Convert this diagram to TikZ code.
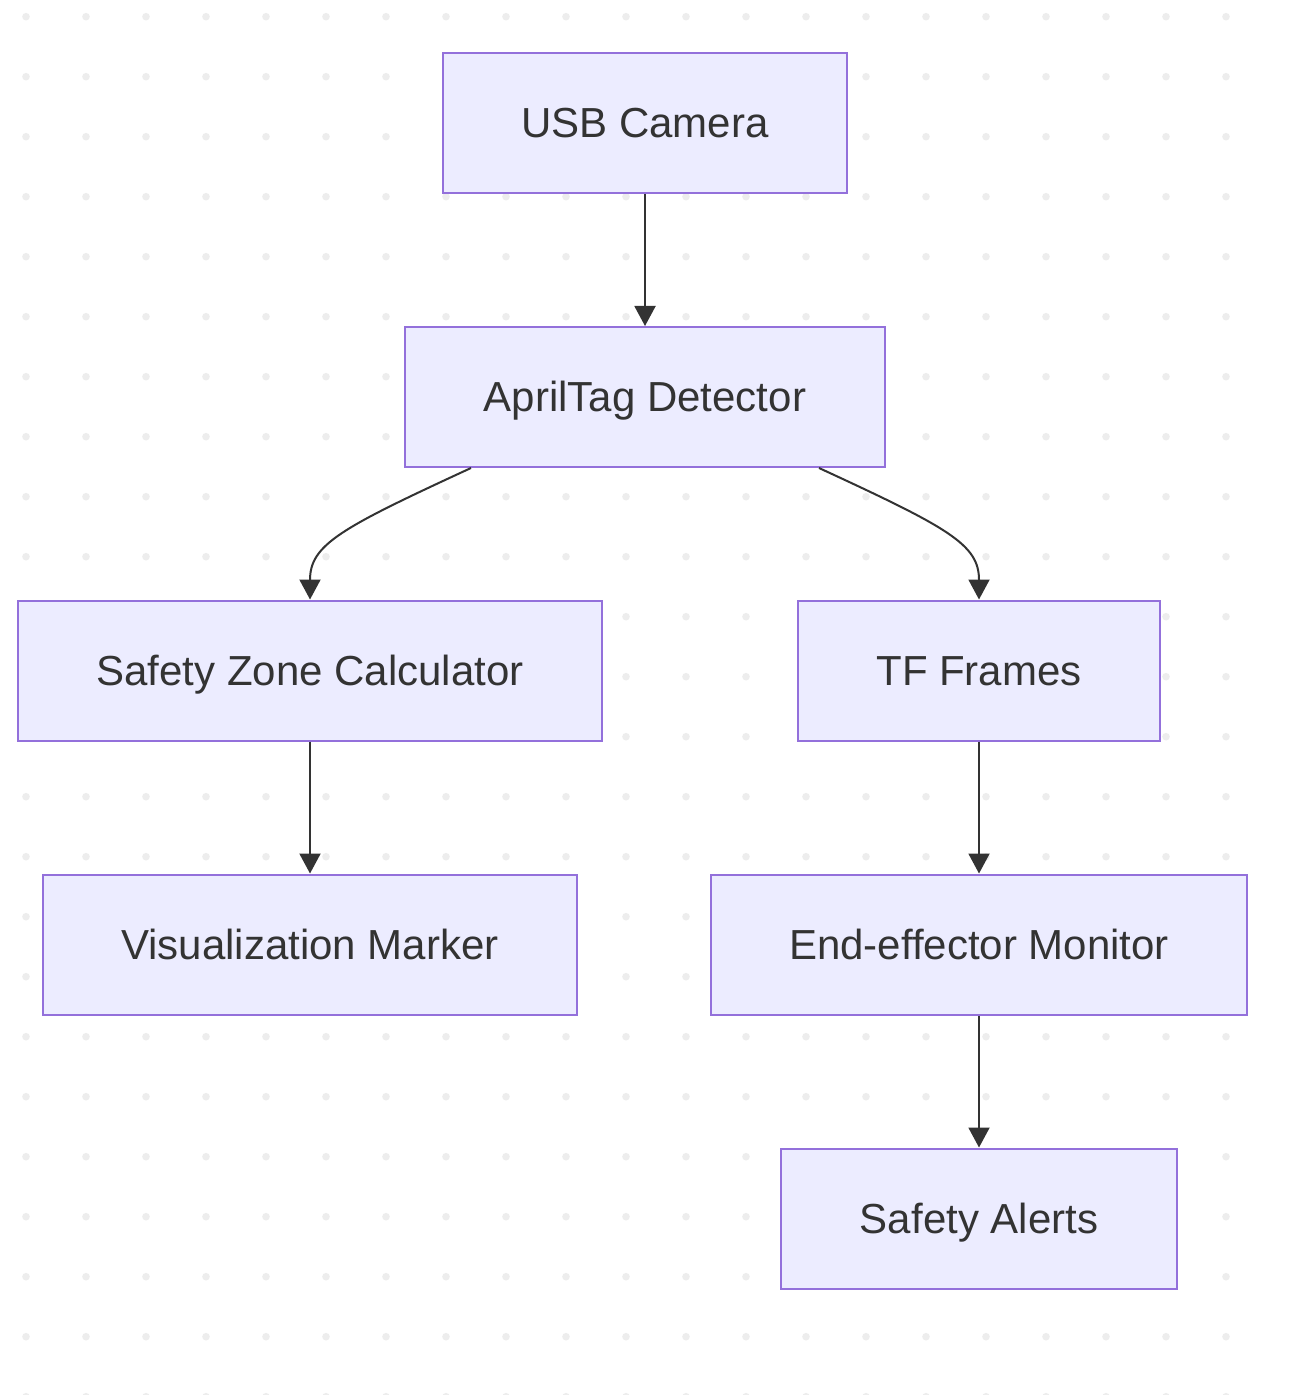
\documentclass[tikz,border=0pt]{standalone}
\usepackage{fontspec}
\setmainfont{Liberation Sans}
\usetikzlibrary{positioning,arrows.meta}

\definecolor{boxfill}{HTML}{ECECFF}
\definecolor{boxborder}{HTML}{9370DB}
\definecolor{inkgray}{HTML}{333333}
\definecolor{dotgray}{HTML}{EDEDED}

\begin{document}
\begin{tikzpicture}[x=0.5pt,y=-0.5pt]
\tikzstyle{every path}=[line width=1pt]

\tikzstyle{stage}=[draw=boxborder,fill=boxfill,text=inkgray,minimum height=70pt,
inner xsep=39.3pt,text height=15pt,text depth=0pt,font=\fontsize{21pt}{25pt}\selectfont]
\tikzstyle{flow}=[draw=inkgray,-{Triangle[length=10pt,width=10.5pt]}]

%% Dotted background
\useasboundingbox (0,0) rectangle (1291,1395);
\fill[white] (0,0) rectangle (1291,1395);
\foreach \col in {0,...,20}
  \foreach \row in {0,...,23}
    \fill[dotgray] (26+60*\col,16.7+60*\row) circle[radius=1.9pt];

%% Draw pipeline stages
\node [stage] (camera) at (645,123) {USB Camera};
\node [stage,below=66pt of camera] (detector) {AprilTag Detector};
\node [stage] (zone) at (310,670.5) {Safety Zone Calculator};
\node [stage] (frames) at (979,670.5) {TF Frames};
\node [stage,below=66pt of zone] (marker) {Visualization Marker};
\node [stage,below=66pt of frames] (monitor) {End-effector Monitor};
\node [stage,below=66pt of monitor] (alerts) {Safety Alerts};

%% Draw data flow
\draw [flow] (camera) -- (detector);
\draw [flow] ([xshift=-87pt]detector.south) .. controls +(-130,60) and +(0,-55) .. (zone.north);
\draw [flow] ([xshift=87pt]detector.south) .. controls +(130,60) and +(0,-55) .. (frames.north);
\draw [flow] (zone) -- (marker);
\draw [flow] (frames) -- (monitor);
\draw [flow] (monitor) -- (alerts);
\end{tikzpicture}
\end{document}
